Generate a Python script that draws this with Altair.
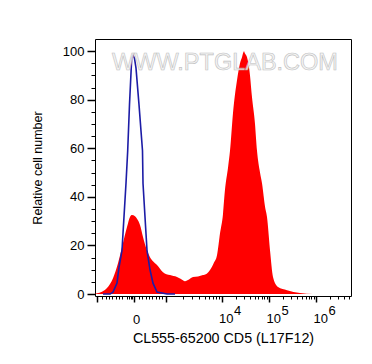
import math
import altair as alt
import pandas as pd

# ---- data (x in display channels of the biexponential axis) ----
red_ch = [0, 2, 7, 12, 18, 23, 28, 32, 35, 37, 40, 42, 45, 48, 52, 55, 58, 62, 68, 75,
          82, 86, 90, 94, 98, 103, 108, 112, 115, 119, 122, 125, 128, 130, 133, 135,
          138, 142, 145, 147, 149, 150, 152, 155, 157, 160, 162, 165, 167, 170, 172,
          175, 178, 183, 192, 205, 218, 256]
red_y = [0, 0.3, 1, 2.5, 6.5, 12.7, 21, 27.6, 31.7, 32.5, 32, 31, 28.4, 23.5, 18, 15.2,
         13.5, 12, 9, 7.8, 7, 6.2, 5.3, 6, 7, 7.2, 7.8, 8.5, 9.9, 13, 16, 25, 33, 43,
         52, 59, 74.5, 88, 95, 97.5, 100, 99, 97.5, 90, 81, 70, 59, 50, 45.6, 36, 31.7,
         18, 7, 2.9, 1.6, 0.4, 0, 0]

blue_ch = [8, 15, 18, 22, 24, 27, 28, 31, 32.7, 34.5, 36.7, 38, 39.5, 41, 44, 47.5, 48,
           50, 52, 55, 58, 62, 72, 80]
blue_y = [0, 0, 0.8, 4.5, 11, 18, 25, 45.6, 59, 78, 97, 98.3, 97, 93, 78, 59, 45.6,
          31.7, 18, 10, 4.5, 0.8, 0, 0]

y_major = [0, 20, 40, 60, 80, 100]
y_minor = [5, 10, 15, 25, 30, 35, 45, 50, 55, 65, 70, 75, 85, 90, 95]

x_major = [2, 39, 71, 126.5, 174, 221]
x_minor_lin = [6.7, 10.7, 14, 17.3, 20.7, 24, 27.3, 32.3, 34, 35.7, 37.3, 44, 47.3,
               50.7, 54, 57.3, 60.7, 64, 67.3]
decade_start = [71, 126.5, 174, 221]
decade_width = [55.5, 47.5, 47, 47]

zero_label_ch = [41]
dec_label_ch = [126.5, 174, 221]
dec_exp = ["4", "5", "6"]

title_x = "CL555-65200 CD5 (L17F12)"
title_y = "Relative cell number"
watermark = "WWW.PTGLAB.COM"

FONT = "Liberation Sans"

x_minor = list(x_minor_lin)
for s, w in zip(decade_start, decade_width):
    for k in range(2, 10):
        p = s + w * math.log10(k)
        if p <= 256:
            x_minor.append(round(p, 2))

exp_expr = " : ".join(
    f"abs(datum.value - {v}) < 0.01 ? '{e}'" for v, e in zip(dec_label_ch, dec_exp)
) + " : ''"

red_df = pd.DataFrame({"ch": red_ch, "y": red_y})
blue_df = pd.DataFrame({"ch": blue_ch, "y": blue_y})
dummy = pd.DataFrame({"ch": [0], "y": [0]})
wm_df = pd.DataFrame({"ch": [130], "t": [watermark]})

xs = alt.Scale(domain=[0, 256], nice=False, zero=False)
ys = alt.Scale(domain=[-0.8, 105], nice=False, zero=False)

lab = dict(labelFont=FONT, labelFontSize=13, labelColor="black", labelFlush=False,
           labelOverlap=False, labelBound=False, domain=False, grid=False,
           orient="bottom", title=None, tickSize=0, ticks=False)

red = alt.Chart(red_df).mark_area(color="#ff0000", interpolate="monotone").encode(
    x=alt.X("ch:Q", scale=xs, axis=alt.Axis(
        values=x_major, labels=False, tickSize=6, tickWidth=1.5, tickColor="black",
        domain=False, grid=False, orient="bottom", title=title_x,
        titleFont=FONT, titleFontSize=14.3, titleFontWeight="normal", titleColor="black",
        titlePadding=29)),
    y=alt.Y("y:Q", scale=ys, axis=alt.Axis(
        values=y_major, tickSize=8, tickWidth=1.5, tickColor="black", domain=False,
        grid=False, orient="left", labelFont=FONT, labelFontSize=13, labelColor="black",
        labelPadding=3, title=title_y, titleFont=FONT, titleFontSize=12.5,
        titleFontWeight="normal", titleColor="black", titlePadding=18)),
    y2=alt.datum(0),
)

blue = alt.Chart(blue_df).mark_line(color="#1c1ca6", strokeWidth=1.6).encode(
    x=alt.X("ch:Q", scale=xs, axis=None),
    y=alt.Y("y:Q", scale=ys, axis=None),
)

minor = alt.Chart(dummy).mark_point(opacity=0).encode(
    x=alt.X("ch:Q", scale=xs, axis=alt.Axis(
        values=x_minor, labels=False, tickSize=3, tickWidth=1, tickColor="black",
        domain=False, grid=False, orient="bottom", title=None)),
    y=alt.Y("y:Q", scale=ys, axis=alt.Axis(
        values=y_minor, labels=False, tickSize=4, tickWidth=1, tickColor="black",
        domain=False, grid=False, orient="left", title=None)),
)

zero_ax = alt.Chart(dummy).mark_point(opacity=0).encode(
    x=alt.X("ch:Q", scale=xs, axis=alt.Axis(
        values=zero_label_ch, labelExpr="'0'", labelAlign="center",
        labelBaseline="alphabetic", labelPadding=27, **lab)),
)

ten_ax = alt.Chart(dummy).mark_point(opacity=0).encode(
    x=alt.X("ch:Q", scale=xs, axis=alt.Axis(
        values=dec_label_ch, labelExpr="'10'", labelAlign="left", labelOffset=-3,
        labelBaseline="alphabetic", labelPadding=26, **lab)),
)

exp_ax = alt.Chart(dummy).mark_point(opacity=0).encode(
    x=alt.X("ch:Q", scale=xs, axis=alt.Axis(
        values=dec_label_ch, labelExpr=exp_expr, labelAlign="left", labelOffset=12,
        labelBaseline="alphabetic", labelPadding=18, **lab)),
)

wm = alt.Chart(wm_df).mark_text(
    font=FONT, fontSize=23.5, fill="#f2f2f2", stroke="#b5b5b5", strokeWidth=0.6,
    align="center", baseline="middle", opacity=0.85
).encode(x=alt.X("ch:Q", scale=xs, axis=None), y=alt.value(24), text="t:N")

chart = alt.layer(red, blue, minor, zero_ax, ten_ax, exp_ax, wm).resolve_axis(
    x="independent", y="independent"
).properties(
    width=256, height=257,
    autosize=alt.AutoSizeParams(type="none"),
    padding={"left": 87, "top": 31, "right": 13, "bottom": 60},
    background="white",
).configure_view(stroke="black", strokeWidth=1)

chart.save("out.html", embed_options={"renderer": "svg", "actions": False})
